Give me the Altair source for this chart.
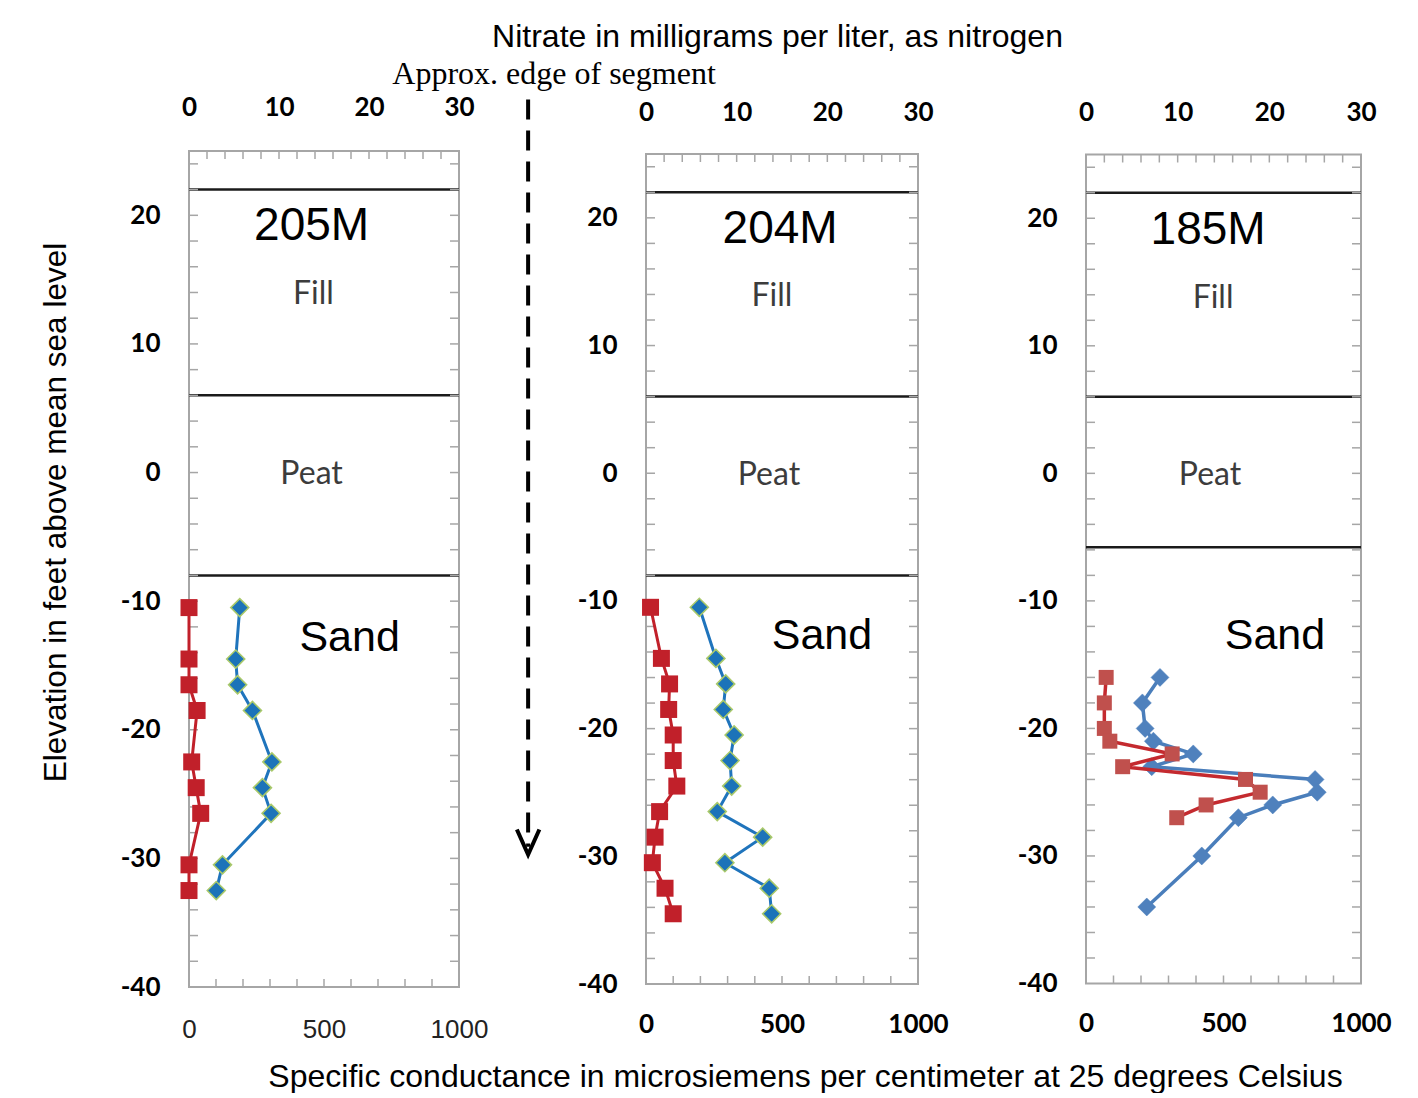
import altair as alt
import pandas as pd

# ---------------- values ----------------
# Well 205M : elevation (ft), nitrate (mg/L as N), specific conductance (uS/cm)
w205_elev = [-10.5, -14.5, -16.5, -18.5, -22.5, -24.5, -26.5, -30.5, -32.5]
w205_nitrate = [0.0, 0.0, 0.0, 0.9, 0.3, 0.8, 1.3, 0.0, 0.0]
w205_sc = [188, 173, 180, 235, 307, 272, 304, 124, 101]
w205_bounds = [22, 6, -8]

# Well 204M
w204_elev = [-10.5, -14.5, -16.5, -18.5, -20.5, -22.5, -24.5, -26.5, -28.5, -30.5, -32.5, -34.5]
w204_nitrate = [0.5, 1.7, 2.6, 2.5, 3.0, 3.0, 3.4, 1.5, 1.0, 0.7, 2.1, 3.0]
w204_sc = [196, 257, 293, 284, 324, 309, 315, 262, 429, 290, 453, 462]
w204_bounds = [22, 6, -8]

# Well 185M
w185_n_elev = [-16, -18, -20, -21, -22, -23, -24, -25, -26, -27]
w185_nitrate = [2.2, 2.0, 2.0, 2.6, 9.4, 4.0, 17.4, 19.0, 13.1, 9.9]
w185_sc_elev = [-16, -18, -20, -21, -22, -23, -24, -25, -26, -27, -30, -34]
w185_sc = [269, 205, 215, 245, 390, 239, 833, 841, 679, 554, 421, 221]
w185_bounds = [22, 6, -5.8]

well_names = ["205M", "204M", "185M"]
unit_names = ["Fill", "Peat", "Sand"]

# annotation anchors in data units (conductance, elevation)
w205_lab_x = [454, 461, 454, 595]
w205_lab_y = [18.1, 13.1, -0.9, -13.9]
w204_lab_x = [493, 463, 452, 647]
w204_lab_y = [18.0, 13.1, -0.95, -13.8]
w185_lab_x = [444, 462, 451, 687]
w185_lab_y = [18.0, 13.0, -0.9, -13.75]

y_label_values = [-40, -30, -20, -10, 0, 10, 20]
nitrate_label_values = [0, 10, 20, 30]
sc_label_values = [0, 500, 1000]
y_minor = list(range(-38, 25, 2))
nitrate_minor = list(range(2, 30, 2))
sc_minor = list(range(100, 1000, 100))

top_title = "Nitrate in milligrams per liter, as nitrogen"
bottom_title = "Specific conductance in microsiemens per centimeter at 25 degrees Celsius"
y_title = "Elevation in feet above mean sea level"
edge_text = "Approx. edge of segment"
edge_x = 1256          # in conductance units of panel 205M
edge_y = [29.0, -29.1]
edge_tip = -29.7
edge_text_pos = [1352, 30.2]

# ---------------- styling ----------------
SANS = "Liberation Sans, Arial, sans-serif"
NARROW = "Liberation Sans Narrow, Arial Narrow, Lato, sans-serif"
CAL = "Lato, Calibri, sans-serif"
SERIF = "Liberation Serif, Times New Roman, serif"
FRAME = "#A6A6A6"
PLAIN = "datum.value + ''"

STYLE_A = dict(rfill="#C1202A", rline="#C1202A", rsize=289, bfill="#1C73B9",
               bstroke="#A9C96A", bsw=1.6, bline="#1F74BC", lw=3)
STYLE_B = dict(rfill="#C0504D", rline="#C42A2F", rsize=225, bfill="#4F81BD",
               bstroke="#4F81BD", bsw=0.5, bline="#4A7EBB", lw=3.5)


def panel(well, n_elev, nitrate, sc_elev, sc, bounds, lab_x, lab_y, W, H, style,
          top_pad, bot_pad, ytitle=False, toptitle=None, bottomtitle=None,
          bottom_bold=True, arrow=False):
    yscale = alt.Scale(domain=[-40, 25], nice=False, zero=False)
    nscale = alt.Scale(domain=[0, 30], nice=False, zero=False)
    cscale = alt.Scale(domain=[0, 1000], nice=False, zero=False)

    yax = dict(values=y_label_values, ticks=False, tickSize=0, domain=False, grid=False,
               labelFont=CAL, labelFontWeight="bold", labelFontSize=26, labelColor="#000",
               labelPadding=29, labelAlign="right", labelBaseline="middle", labelExpr=PLAIN)
    if ytitle:
        yax.update(title=y_title, titleFont=SANS, titleFontSize=31.5, titleFontWeight="normal",
                   titleColor="#000", titleAngle=270, titleAlign="center",
                   titleBaseline="middle", titleX=-133, titleY=361)
    else:
        yax["title"] = None
    YAX = alt.Axis(**yax)

    nax = dict(orient="top", values=nitrate_label_values, ticks=False, tickSize=0,
               domain=False, grid=False, labelFont=CAL, labelFontWeight="bold",
               labelFontSize=26, labelColor="#000", labelPadding=top_pad,
               labelBaseline="middle", labelFlush=False, labelExpr=PLAIN)
    if toptitle:
        nax.update(title=top_title, titleFont=SANS, titleFontSize=32, titleFontWeight="normal",
                   titleColor="#000", titleAlign="center", titleBaseline="middle",
                   titleAngle=0, titleX=toptitle[0], titleY=toptitle[1])
    else:
        nax["title"] = None
    NAX = alt.Axis(**nax)

    cax = dict(orient="bottom", values=sc_label_values, ticks=False, tickSize=0,
               domain=False, grid=False,
               labelFont=CAL if bottom_bold else SANS,
               labelFontWeight="bold" if bottom_bold else "normal",
               labelFontSize=26, labelColor="#000" if bottom_bold else "#222",
               labelPadding=bot_pad, labelBaseline="middle", labelFlush=False,
               labelExpr=PLAIN)
    if bottomtitle:
        cax.update(title=bottom_title, titleFont=SANS, titleFontSize=32, titleFontWeight="normal",
                   titleColor="#000", titleAlign="center", titleBaseline="middle",
                   titleAngle=0, titleX=bottomtitle[0], titleY=bottomtitle[1])
    else:
        cax["title"] = None
    CAX = alt.Axis(**cax)

    def cx(f):
        return alt.X(f, type="quantitative", scale=cscale, axis=CAX)

    def nx(f):
        return alt.X(f, type="quantitative", scale=nscale, axis=NAX)

    def yy(f):
        return alt.Y(f, type="quantitative", scale=yscale, axis=YAX)

    nd = pd.DataFrame({"elev": n_elev, "val": nitrate, "i": list(range(len(n_elev)))})
    cd = pd.DataFrame({"elev": sc_elev, "val": sc, "i": list(range(len(sc_elev)))})
    lab = pd.DataFrame({"t": [well] + unit_names, "x": lab_x, "y": lab_y})

    bd = alt.Chart(pd.DataFrame({"b": bounds})).mark_rule(
        color="#1a1a1a", strokeWidth=2.5).encode(y=yy("b"), x=alt.value(0), x2=alt.value(W))
    ym = pd.DataFrame({"t": y_minor})
    lt = alt.Chart(ym).mark_rule(color=FRAME, strokeWidth=1.5).encode(
        y=yy("t"), x=alt.value(0), x2=alt.value(9))
    rt = alt.Chart(ym).mark_rule(color=FRAME, strokeWidth=1.5).encode(
        y=yy("t"), x=alt.value(W - 9), x2=alt.value(W))
    bt = alt.Chart(pd.DataFrame({"t": sc_minor})).mark_rule(color=FRAME, strokeWidth=1.5).encode(
        x=cx("t"), y=alt.value(H - 8), y2=alt.value(H))
    tt = alt.Chart(pd.DataFrame({"t": nitrate_minor})).mark_rule(color=FRAME, strokeWidth=1.5).encode(
        x=nx("t"), y=alt.value(0), y2=alt.value(8))

    well_txt = alt.Chart(lab.iloc[[0]]).mark_text(
        font=SANS, fontSize=46, color="#000", align="center", baseline="alphabetic"
    ).encode(x=cx("x"), y=yy("y"), text="t:N")
    unit_txt = alt.Chart(lab.iloc[[1, 2]]).mark_text(
        font=NARROW, fontSize=32, color="#3c3c3c", align="center", baseline="alphabetic"
    ).encode(x=cx("x"), y=yy("y"), text="t:N")
    sand_txt = alt.Chart(lab.iloc[[3]]).mark_text(
        font=SANS, fontSize=43, color="#000", align="center", baseline="alphabetic"
    ).encode(x=cx("x"), y=yy("y"), text="t:N")

    blue_line = alt.Chart(cd).mark_line(color=style["bline"], strokeWidth=style["lw"]).encode(
        x=cx("val"), y=yy("elev"), order="i:Q")
    blue_pts = alt.Chart(cd).mark_point(
        shape="diamond", filled=True, size=324, fill=style["bfill"], stroke=style["bstroke"],
        strokeWidth=style["bsw"], opacity=1).encode(x=cx("val"), y=yy("elev"))

    red_line = alt.Chart(nd).mark_line(color=style["rline"], strokeWidth=style["lw"]).encode(
        x=nx("val"), y=yy("elev"), order="i:Q")
    red_pts = alt.Chart(nd).mark_point(
        shape="square", filled=True, size=style["rsize"], color=style["rfill"], opacity=1
    ).encode(x=nx("val"), y=yy("elev"))

    cond_parts = [bd, lt, rt, bt, well_txt, unit_txt, sand_txt, blue_line, blue_pts]
    if arrow:
        ad = pd.DataFrame({"x": [edge_x], "y": [edge_y[0]], "y2": [edge_y[1]]})
        cond_parts.append(alt.Chart(ad).mark_rule(
            color="#000", strokeWidth=4, strokeDash=[20, 11]).encode(
            x=cx("x"), y=yy("y"), y2="y2:Q"))
        tipd = pd.DataFrame({"x": [edge_x], "y": [edge_tip]})
        cond_parts.append(alt.Chart(tipd).mark_point(
            shape="M-0.45,-1L0,0L0.45,-1", filled=False, size=2500, stroke="#000",
            strokeWidth=4, opacity=1).encode(x=cx("x"), y=yy("y")))
        etd = pd.DataFrame({"x": [edge_text_pos[0]], "y": [edge_text_pos[1]], "t": [edge_text]})
        cond_parts.append(alt.Chart(etd).mark_text(
            font=SERIF, fontSize=32, color="#000", align="center", baseline="alphabetic"
        ).encode(x=cx("x"), y=yy("y"), text="t:N"))

    cond_layer = alt.layer(*cond_parts)
    nit_layer = alt.layer(tt, red_line, red_pts)
    return alt.layer(cond_layer, nit_layer).resolve_scale(x="independent").properties(
        width=W, height=H)


def spacer(w):
    return alt.Chart(pd.DataFrame({"s": [0]})).mark_point(opacity=0).encode(
        x=alt.value(0), y=alt.value(0)).properties(
        width=w, height=10, view=alt.ViewBackground(stroke="transparent"))


p1 = panel(well_names[0], w205_elev, w205_nitrate, w205_elev, w205_sc, w205_bounds,
           w205_lab_x, w205_lab_y, 270, 836, STYLE_A, top_pad=44, bot_pad=42,
           ytitle=True, bottom_bold=False, arrow=True)
p2 = panel(well_names[1], w204_elev, w204_nitrate, w204_elev, w204_sc, w204_bounds,
           w204_lab_x, w204_lab_y, 272, 830, STYLE_A, top_pad=42, bot_pad=40,
           toptitle=(131, -118), bottomtitle=(159, 92))
p3 = panel(well_names[2], w185_n_elev, w185_nitrate, w185_sc_elev, w185_sc, w185_bounds,
           w185_lab_x, w185_lab_y, 275, 829, STYLE_B, top_pad=42, bot_pad=40)

chart = alt.hconcat(p1, spacer(187), p2, spacer(168), p3, spacing=0, bounds="flush",
                    center=True).properties(
    padding={"left": 31, "top": 11, "right": 5, "bottom": 0},
    background="white",
).configure_view(stroke=FRAME, strokeWidth=2)

chart.save("out.html", embed_options={"renderer": "svg", "actions": False})
